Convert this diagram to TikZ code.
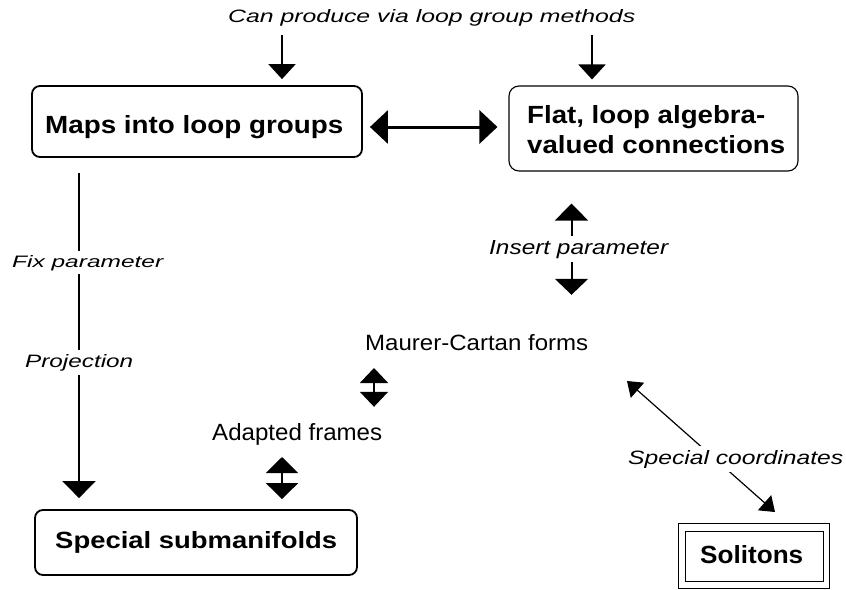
\documentclass[tikz,border=0pt]{standalone}
\usepackage{fontspec}
\usepackage{graphicx}
\setmainfont{Liberation Sans}
\usetikzlibrary{arrows.meta}
\newcommand{\fittext}[3]{\resizebox{#1pt}{#2pt}{#3}}
\begin{document}
\begin{tikzpicture}[x=1pt,y=-1pt,
  txt/.style={inner sep=0pt,anchor=base west},
  lbl/.style={inner xsep=0pt,inner ysep=4pt,anchor=base west,fill=white},
  boxthick/.style={draw,line width=1.8pt,rounded corners=8pt,inner sep=0pt},
  boxthin/.style={draw,line width=1.1pt,rounded corners=10pt,inner sep=0pt},
  solbox/.style={draw,line width=1pt,inner sep=0pt},
  arrA/.style={line width=2pt,-{Triangle[width=27pt,length=15pt]}},
  arrL/.style={line width=2pt,-{Triangle[width=33pt,length=17pt]}},
  dblH/.style={line width=3pt,{Triangle[width=33pt,length=18pt]}-{Triangle[width=33pt,length=18pt]}},
  dblI/.style={line width=2pt,{Triangle[width=33pt,length=17pt]}-{Triangle[width=33pt,length=16pt]}},
  dblS/.style={line width=2pt,{Triangle[width=28pt,length=15pt]}-{Triangle[width=28pt,length=15pt]}},
  dblM/.style={line width=2pt,{Triangle[width=32pt,length=16pt]}-{Triangle[width=32pt,length=16pt]}},
  dblD/.style={line width=1.2pt,{Triangle[width=20pt,length=14pt]}-{Triangle[width=20pt,length=14pt]}}
]
\useasboundingbox (0,0) rectangle (846,589);

% boxes
\node[boxthick,minimum width=330pt,minimum height=71pt] (maps) at (197,121.5) {};
\node[boxthin,minimum width=289pt,minimum height=85pt] (flat) at (653.5,128.5) {};
\node[boxthick,minimum width=322pt,minimum height=65pt] (special) at (196,542.5) {};
\node[solbox,minimum width=151pt,minimum height=65pt] (solout) at (753.5,555.5) {};
\node[solbox,minimum width=138pt,minimum height=50pt] (solin) at (754,556) {};

% texts
\node[txt] (top) at (228,22) {\fittext{407}{13}{\itshape Can produce via loop group methods}};
\node[txt] (mapst) at (45,133) {\fittext{298}{18}{\bfseries Maps into loop groups}};
\node[txt] (flat1) at (527,123) {\fittext{238}{18}{\bfseries Flat, loop algebra-}};
\node[txt] (flat2) at (527,153) {\fittext{258}{18}{\bfseries valued connections}};
\node[txt] (mc) at (365,350) {\fittext{223}{16}{Maurer-Cartan forms}};
\node[txt] (af) at (212,440) {\fittext{170}{17}{Adapted frames}};
\node[txt] (ss) at (55,548) {\fittext{282}{17}{\bfseries Special submanifolds}};
\node[txt] (sol) at (700,563) {\fittext{103}{18}{\bfseries Solitons}};

% connectors
\coordinate (a1) at (282,35);
\coordinate (a2) at (592,35);
\draw[arrA,shorten >=6pt] (a1) -- (a1 |- maps.north);
\draw[arrA,shorten >=6pt] (a2) -- (a2 |- flat.north);

\coordinate (hh) at (0,127);
\draw[dblH,shorten <=7pt,shorten >=11pt] (maps.east |- hh) -- (flat.west |- hh);

\coordinate (lv) at (79,0);
\draw[arrL,shorten <=15pt,shorten >=11pt] (maps.south -| lv) -- (special.north -| lv);

\coordinate (ip) at (571.5,0);
\draw[dblI,shorten <=32pt,shorten >=39pt] (flat.south -| ip) -- (mc.north -| ip);

\coordinate (xm) at (374,0);
\draw[dblS,shorten <=18pt,shorten >=16pt] (mc.base -| xm) -- (af.north -| xm);

\coordinate (xa) at (282,0);
\draw[dblM,shorten <=17pt,shorten >=10pt] (af.base -| xa) -- (special.north -| xa);

\coordinate (d1) at (627,381);
\coordinate (d2) at (775,512);
\draw[dblD] (d1) -- (d2);

% labels on connectors
\node[lbl] (fix) at (12,267) {\fittext{151}{12}{\itshape Fix parameter}};
\node[lbl] (proj) at (25,367) {\fittext{108}{13}{\itshape Projection}};
\node[lbl] (ins) at (489,254) {\fittext{179}{14}{\itshape Insert parameter}};
\node[lbl] (sc) at (628,464) {\fittext{215}{14}{\itshape Special coordinates}};
\end{tikzpicture}
\end{document}
